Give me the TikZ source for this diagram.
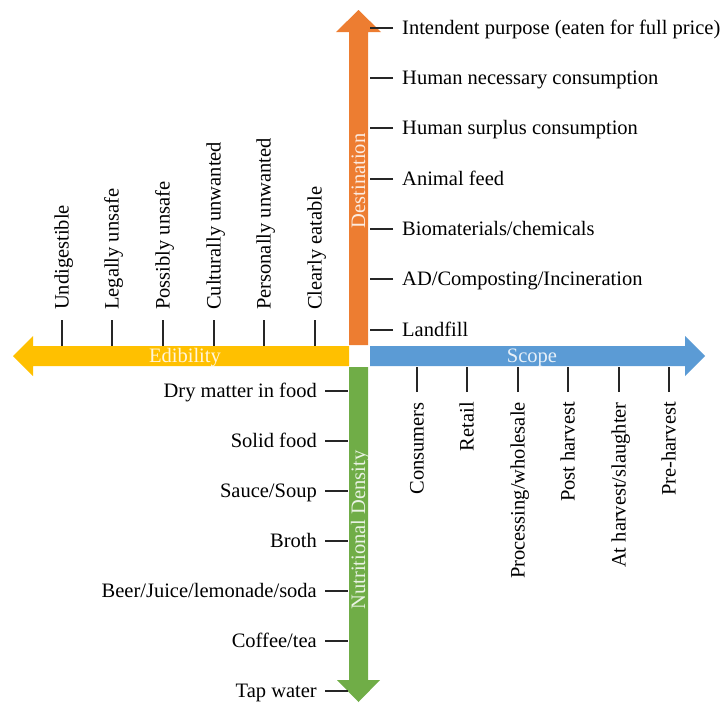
\documentclass[tikz,border=0pt]{standalone}
\usepackage{fontspec}
\setmainfont{Liberation Serif}
\usetikzlibrary{arrows.meta,positioning}
\definecolor{Carrot}{HTML}{ED7D31}
\definecolor{Amber}{HTML}{FFC000}
\definecolor{Sky}{HTML}{5B9BD5}
\definecolor{Leaf}{HTML}{70AD47}

\begin{document}
\begin{tikzpicture}[x=1pt, y=-1pt,
    lbl/.style={inner sep=0pt, text height=13pt, text depth=0pt, font=\fontsize{20.5}{24}\selectfont},
    tick/.style={line width=1.6pt, color=black!85},
    axislbl/.style={lbl, text=white, text opacity=0.85}]
    \useasboundingbox (0,0) rectangle (728,704);
    % the four axes
    \fill[Carrot] (349,345) -- (349,32) -- (336,32) -- (358.5,10) -- (381,32) -- (368,32) -- (368,345) -- cycle;
    \fill[Leaf] (349,367) -- (349,680) -- (337,680) -- (358.5,702) -- (380,680) -- (368,680) -- (368,367) -- cycle;
    \fill[Amber] (349,346) -- (33,346) -- (33,336) -- (13,356) -- (33,376) -- (33,366) -- (349,366) -- cycle;
    \fill[Sky] (370,346) -- (685,346) -- (685,336) -- (705,356) -- (685,376) -- (685,366) -- (370,366) -- cycle;
    \node[axislbl, rotate=90] (dest) at (358.5,181) {Destination};
    \node[axislbl, rotate=90] (nutr) at (358.5,530) {Nutritional Density};
    \node[axislbl] (edib) at (185,356) {Edibility};
    \node[axislbl] (scope) at (532,356) {Scope};
    % destination
    \node[lbl, anchor=west] (d1) at (402,28) {Intendent purpose (eaten for full price)};
    \node[lbl, anchor=west] (d2) at (402,78) {Human necessary consumption};
    \node[lbl, anchor=west] (d3) at (402,128) {Human surplus consumption};
    \node[lbl, anchor=west] (d4) at (402,179) {Animal feed};
    \node[lbl, anchor=west] (d5) at (402,229) {Biomaterials/chemicals};
    \node[lbl, anchor=west] (d6) at (402,279) {AD/Composting/Incineration};
    \node[lbl, anchor=west] (d7) at (402,330) {Landfill};
    \draw[tick] (d1.west) ++(-9,0) -- ++(-23,0);
    \draw[tick] (d2.west) ++(-9,0) -- ++(-23,0);
    \draw[tick] (d3.west) ++(-9,0) -- ++(-23,0);
    \draw[tick] (d4.west) ++(-9,0) -- ++(-23,0);
    \draw[tick] (d5.west) ++(-9,0) -- ++(-23,0);
    \draw[tick] (d6.west) ++(-9,0) -- ++(-23,0);
    \draw[tick] (d7.west) ++(-9,0) -- ++(-23,0);
    % edibility
    \node[lbl, rotate=90, anchor=west] (e1) at (62,310) {Undigestible};
    \node[lbl, rotate=90, anchor=west] (e2) at (112,310) {Legally unsafe};
    \node[lbl, rotate=90, anchor=west] (e3) at (163,310) {Possibly unsafe};
    \node[lbl, rotate=90, anchor=west] (e4) at (214,310) {Culturally unwanted};
    \node[lbl, rotate=90, anchor=west] (e5) at (264,310) {Personally unwanted};
    \node[lbl, rotate=90, anchor=west] (e6) at (315,310) {Clearly eatable};
    \draw[tick] (e1.west) ++(0,10) -- ++(0,26);
    \draw[tick] (e2.west) ++(0,10) -- ++(0,26);
    \draw[tick] (e3.west) ++(0,10) -- ++(0,26);
    \draw[tick] (e4.west) ++(0,10) -- ++(0,26);
    \draw[tick] (e5.west) ++(0,10) -- ++(0,26);
    \draw[tick] (e6.west) ++(0,10) -- ++(0,26);
    % scope
    \node[lbl, rotate=90, anchor=east] (s1) at (417,402) {Consumers};
    \node[lbl, rotate=90, anchor=east] (s2) at (467,402) {Retail};
    \node[lbl, rotate=90, anchor=east] (s3) at (518,402) {Processing/wholesale};
    \node[lbl, rotate=90, anchor=east] (s4) at (568,402) {Post harvest};
    \node[lbl, rotate=90, anchor=east] (s5) at (619,402) {At harvest/slaughter};
    \node[lbl, rotate=90, anchor=east] (s6) at (669,402) {Pre-harvest};
    \draw[tick] (s1.east) ++(0,-10) -- ++(0,-25);
    \draw[tick] (s2.east) ++(0,-10) -- ++(0,-25);
    \draw[tick] (s3.east) ++(0,-10) -- ++(0,-25);
    \draw[tick] (s4.east) ++(0,-10) -- ++(0,-25);
    \draw[tick] (s5.east) ++(0,-10) -- ++(0,-25);
    \draw[tick] (s6.east) ++(0,-10) -- ++(0,-25);
    % nutritional density
    \node[lbl, anchor=east] (n1) at (317,391) {Dry matter in food};
    \node[lbl, anchor=east] (n2) at (317,441) {Solid food};
    \node[lbl, anchor=east] (n3) at (317,491) {Sauce/Soup};
    \node[lbl, anchor=east] (n4) at (317,541) {Broth};
    \node[lbl, anchor=east] (n5) at (317,591) {Beer/Juice/lemonade/soda};
    \node[lbl, anchor=east] (n6) at (317,641) {Coffee/tea};
    \node[lbl, anchor=east] (n7) at (317,691) {Tap water};
    \draw[tick] (n1.east) ++(8,0) -- ++(23,0);
    \draw[tick] (n2.east) ++(8,0) -- ++(23,0);
    \draw[tick] (n3.east) ++(8,0) -- ++(23,0);
    \draw[tick] (n4.east) ++(8,0) -- ++(23,0);
    \draw[tick] (n5.east) ++(8,0) -- ++(23,0);
    \draw[tick] (n6.east) ++(8,0) -- ++(23,0);
    \draw[tick] (n7.east) ++(8,0) -- ++(23,0);
  \end{tikzpicture}
\end{document}
